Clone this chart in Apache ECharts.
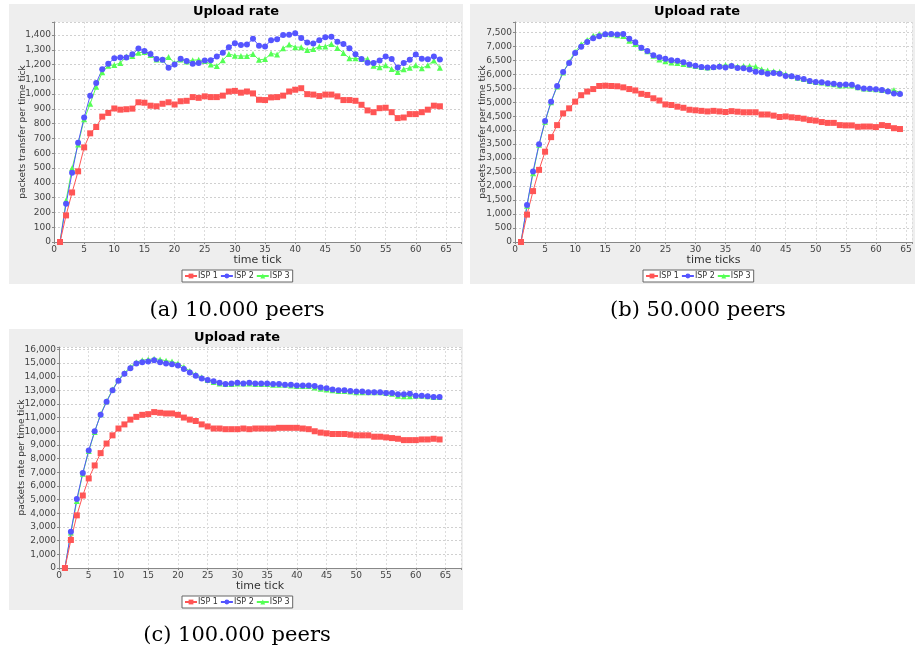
<!DOCTYPE html>
<html>
<head>
<meta charset="utf-8">
<title>Upload rate</title>
<script src="https://cdn.jsdelivr.net/npm/echarts@6/dist/echarts.min.js"></script>
<style>
  html, body { margin: 0; padding: 0; background: #ffffff; }
  #chart { width: 915px; height: 656px; }
</style>
</head>
<body>
<div id="chart"></div>
<script>
// Time ticks shared by every panel
const ticks = [1,2,3,4,5,6,7,8,9,10,11,12,13,14,15,16,17,18,19,20,21,22,23,24,25,26,27,28,29,30,31,32,
  33,34,35,36,37,38,39,40,41,42,43,44,45,46,47,48,49,50,51,52,53,54,55,56,57,58,59,60,61,62,63,64];

const seriesNames = ['ISP 1', 'ISP 2', 'ISP 3'];

// (a) 10.000 peers
const isp1Peers10k = [0,180,335,478,640,735,778,848,873,903,895,898,902,945,942,922,918,935,945,930,952,955,980,975,
  985,980,980,990,1018,1022,1010,1018,1005,962,960,978,980,990,1018,1030,1040,1000,997,987,997,997,985,960,
  960,955,928,890,878,905,908,878,838,842,865,865,878,895,922,918];
const isp2Peers10k = [0,258,468,672,842,990,1075,1168,1205,1242,1248,1248,1270,1308,1292,1272,1238,1232,1178,1200,
  1240,1225,1205,1210,1228,1230,1255,1280,1318,1345,1333,1335,1375,1328,1322,1365,1372,1400,1402,1412,1380,1350,
  1342,1365,1385,1388,1355,1340,1310,1270,1238,1212,1210,1228,1255,1238,1180,1210,1232,1268,1240,1236,1255,1235];
const isp3Peers10k = [0,280,498,660,830,935,1050,1148,1192,1198,1210,1255,1258,1280,1285,1265,1235,1234,1252,1210,
  1235,1220,1230,1232,1225,1200,1190,1230,1272,1260,1258,1258,1272,1232,1237,1275,1268,1310,1335,1318,1318,1298,
  1305,1322,1322,1340,1312,1278,1242,1242,1238,1238,1192,1182,1195,1170,1150,1168,1178,1195,1175,1195,1228,1178];

// (b) 50.000 peers
const isp1Peers50k = [0,980,1820,2580,3230,3750,4180,4600,4780,5020,5250,5380,5470,5580,5590,5580,5570,5530,5470,5420,
  5300,5260,5140,5060,4920,4900,4840,4800,4730,4710,4690,4670,4690,4670,4650,4680,4660,4640,4640,4640,4560,4560,
  4520,4470,4490,4460,4440,4410,4360,4340,4290,4260,4260,4180,4170,4170,4120,4130,4130,4110,4180,4150,4070,4040];
const isp2Peers50k = [0,1320,2520,3500,4330,5020,5580,6080,6400,6760,6980,7150,7290,7360,7430,7440,7420,7440,7270,7140,
  6950,6830,6680,6610,6550,6500,6480,6430,6350,6300,6260,6240,6250,6270,6240,6290,6220,6210,6170,6090,6070,6020,
  6040,6020,5940,5930,5870,5830,5760,5720,5710,5680,5660,5620,5630,5620,5530,5490,5480,5460,5440,5380,5310,5290];
const isp3Peers50k = [0,1300,2460,3480,4300,5000,5560,6060,6450,6800,7070,7220,7380,7440,7440,7430,7390,7370,7200,7080,
  6950,6820,6660,6530,6460,6420,6400,6370,6340,6290,6260,6240,6260,6310,6330,6320,6280,6290,6290,6280,6180,6130,
  6110,6090,6000,5950,5870,5830,5760,5720,5700,5670,5640,5600,5610,5600,5530,5490,5480,5460,5440,5420,5440,5340];

// (c) 100.000 peers
const isp1Peers100k = [0,2050,3850,5300,6550,7500,8400,9100,9700,10200,10500,10850,11050,11200,11250,11400,11350,11300,
  11300,11200,11000,10850,10750,10500,10350,10200,10200,10150,10150,10150,10200,10150,10200,10200,10200,10200,10250,
  10250,10250,10250,10200,10150,10000,9900,9850,9800,9800,9800,9750,9700,9700,9700,9600,9600,9550,9500,9450,9350,
  9350,9350,9400,9400,9450,9400];
const isp2Peers100k = [0,2650,5050,6950,8600,10000,11200,12150,13000,13700,14200,14600,14950,15050,15100,15200,15050,
  14950,14900,14800,14550,14300,14050,13850,13750,13650,13550,13450,13500,13550,13500,13550,13500,13500,13500,13450,
  13450,13400,13400,13350,13350,13350,13300,13200,13150,13050,13000,13000,12950,12900,12900,12850,12850,12850,12800,
  12800,12700,12700,12750,12600,12600,12550,12500,12500];
const isp3Peers100k = [0,2600,4900,6900,8550,9950,11250,12200,13050,13750,14250,14700,15050,15200,15250,15300,15250,
  15150,15100,14950,14700,14400,14150,13950,13750,13600,13500,13450,13450,13500,13500,13500,13450,13450,13450,13400,
  13400,13400,13350,13300,13300,13300,13200,13100,13050,13000,12950,12950,12900,12850,12850,12850,12850,12850,12800,
  12750,12600,12550,12550,12600,12600,12550,12500,12500];

// Axis tick steps per panel
const yStepA = 100, yStepB = 500, yStepC = 1000, xStep = 5;

const colors = { 'ISP 1': '#ff5555', 'ISP 2': '#5555ff', 'ISP 3': '#55ff55' };
const symbols = { 'ISP 1': 'rect', 'ISP 2': 'circle', 'ISP 3': 'triangle' };
const symbolSizes = { 'ISP 1': 6, 'ISP 2': 6, 'ISP 3': 6 };

const panels = [
  { bg: [9, 4, 454, 280], grid: { left: 54, top: 22, width: 407, height: 220 }, xMax: 67.5, yMax: 1488, yStep: yStepA,
    xName: 'time tick', yName: 'packets transfer per time tick', yGap: 27,
    titleX: 236, titleY: 12, legendLeft: 182, legendTop: 270,
    caption: '(a) 10.000 peers', capX: 237, capY: 311,
    data: { 'ISP 1': isp1Peers10k, 'ISP 2': isp2Peers10k, 'ISP 3': isp3Peers10k } },
  { bg: [470, 4, 445, 280], grid: { left: 515, top: 22, width: 399, height: 220 }, xMax: 66.0, yMax: 7868, yStep: yStepB,
    xName: 'time ticks', yName: 'packets transfer per time tick', yGap: 28,
    titleX: 697, titleY: 12, legendLeft: 643, legendTop: 270,
    caption: '(b) 50.000 peers', capX: 698, capY: 311,
    data: { 'ISP 1': isp1Peers50k, 'ISP 2': isp2Peers50k, 'ISP 3': isp3Peers50k } },
  { bg: [9, 329, 454, 281], grid: { left: 59, top: 347, width: 402, height: 221 }, xMax: 67.6, yMax: 16160, yStep: yStepC,
    xName: 'time tick', yName: 'packets rate per time tick', yGap: 33,
    titleX: 237, titleY: 338, legendLeft: 182, legendTop: 596,
    caption: '(c) 100.000 peers', capX: 237, capY: 636,
    data: { 'ISP 1': isp1Peers100k, 'ISP 2': isp2Peers100k, 'ISP 3': isp3Peers100k } }
];

const labelFont = 'DejaVu Sans';
const thousands = v => String(v).replace(/\B(?=(\d{3})+(?!\d))/g, ',');

const grids = [], xAxes = [], yAxes = [], series = [], legends = [], graphics = [];

panels.forEach((p, i) => {
  graphics.push({ type: 'rect', z: -10, shape: { x: p.bg[0], y: p.bg[1], width: p.bg[2], height: p.bg[3] },
    style: { fill: '#eeeeee' } });
  graphics.push({ type: 'text', x: p.titleX, y: p.titleY, style: { text: 'Upload rate', fill: '#000',
    font: 'bold 13px ' + labelFont, textAlign: 'center', textVerticalAlign: 'middle' } });
  graphics.push({ type: 'text', x: p.capX, y: p.capY, style: { text: p.caption, fill: '#000',
    font: '21px "DejaVu Serif"', textAlign: 'center', textVerticalAlign: 'middle' } });

  grids.push(Object.assign({ backgroundColor: '#ffffff', show: true, borderWidth: 0 }, p.grid));

  xAxes.push({
    type: 'value', gridIndex: i, min: 0, max: p.xMax, interval: xStep,
    name: p.xName, nameLocation: 'middle', nameGap: 13, nameMoveOverlap: false,
    nameTextStyle: { fontFamily: labelFont, fontSize: 11, color: '#333' },
    axisLine: { lineStyle: { color: '#888', width: 1 } },
    axisTick: { length: 2, lineStyle: { color: '#888' } },
    axisLabel: { fontFamily: labelFont, fontSize: 9, color: '#444', margin: 3,
      formatter: v => (v % xStep === 0 ? String(v) : '') },
    splitLine: { show: true, lineStyle: { color: '#dcdcdc', type: [2, 2], width: 1 } }
  });

  yAxes.push({
    type: 'value', gridIndex: i, min: 0, max: p.yMax, interval: p.yStep,
    name: p.yName, nameLocation: 'middle', nameGap: p.yGap, nameRotate: 90, nameMoveOverlap: false,
    nameTextStyle: { fontFamily: labelFont, fontSize: 9, color: '#333' },
    axisLine: { show: true, lineStyle: { color: '#888', width: 1 } },
    axisTick: { show: true, length: 2, lineStyle: { color: '#888' } },
    axisLabel: { fontFamily: labelFont, fontSize: 9, color: '#444', margin: 3,
      formatter: v => (v % p.yStep === 0 ? thousands(v) : '') },
    splitLine: { show: true, lineStyle: { color: '#d0d0d0', type: [2, 2], width: 1 } }
  });

  // ISP 1 is drawn last so it sits on top, ISP 3 first
  ['ISP 3', 'ISP 2', 'ISP 1'].forEach(name => {
    series.push({
      type: 'line', name: name, xAxisIndex: i, yAxisIndex: i,
      data: ticks.map((t, k) => [t, p.data[name][k]]),
      color: colors[name],
      symbol: symbols[name], symbolSize: symbolSizes[name], showSymbol: true,
      lineStyle: { width: 1, color: colors[name] },
      itemStyle: { color: colors[name] },
      emphasis: { disabled: true }
    });
  });

  legends.push({
    data: seriesNames, left: p.legendLeft, top: p.legendTop, orient: 'horizontal',
    itemWidth: 12, itemHeight: 6, itemGap: 2, padding: [2, 3, 2, 2],
    borderColor: '#666', borderWidth: 1, backgroundColor: '#ffffff',
    selectedMode: false,
    textStyle: { fontFamily: labelFont, fontSize: 8, color: '#333', padding: [0, 0, 0, -4] }
  });
});

const chart = echarts.init(document.getElementById('chart'), null, { renderer: 'canvas' });
chart.setOption({
  animation: false,
  backgroundColor: '#ffffff',
  grid: grids, xAxis: xAxes, yAxis: yAxes, series: series, legend: legends,
  graphic: graphics
});
</script>
</body>
</html>
